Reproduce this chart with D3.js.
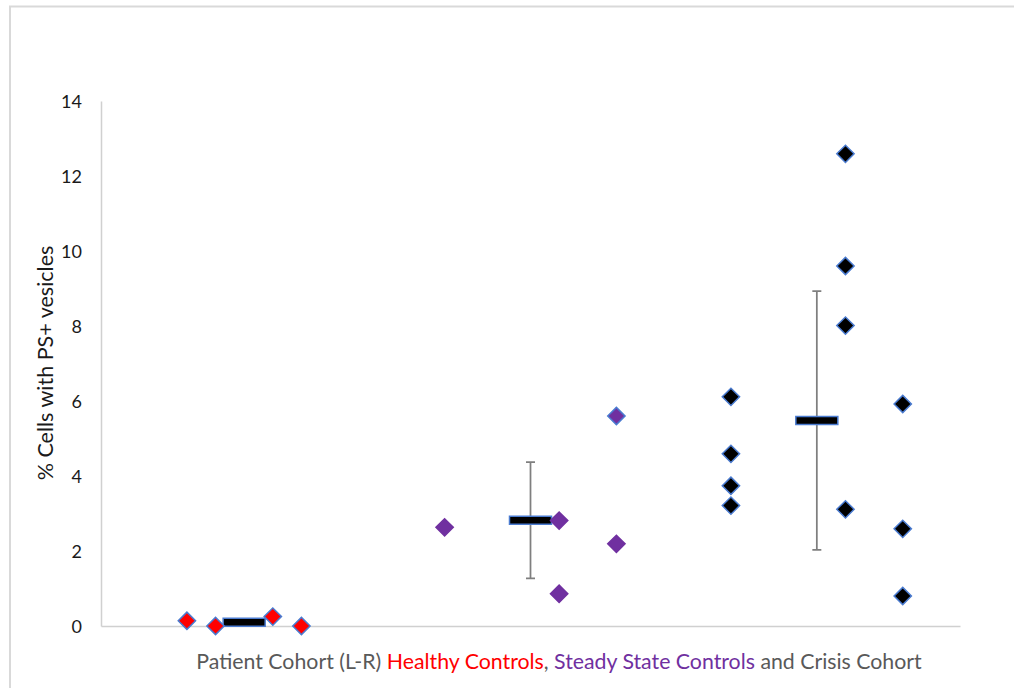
<!DOCTYPE html>
<html>
<head>
<meta charset="utf-8">
<script src="https://cdn.jsdelivr.net/npm/d3@7"></script>
<style>
  html, body { margin: 0; padding: 0; background: #fff; }
  svg { display: block; }
  text { font-family: Lato, "Open Sans", "Liberation Sans", sans-serif; }
</style>
</head>
<body>
<svg id="chart" width="1014" height="688"></svg>
<script>
// Cohort positions (x) and % of cells with PS+ vesicles (y)
const healthyX = [3, 4, 6, 7];
const healthyY = [0.14, 0.0, 0.25, 0.0];
const steadyX = [12, 16, 16, 18, 18];
const steadyY = [2.63, 2.81, 0.86, 5.6, 2.19];
const crisisX = [22, 22, 22, 22, 26, 26, 26, 26, 28, 28, 28];
const crisisY = [6.11, 4.59, 3.74, 3.21, 12.59, 9.6, 8.01, 3.11, 5.92, 2.59, 0.8];

// Group means with error bars (mean ± SD)
const meanX = [5, 15, 25];
const meanY = [0.1, 2.82, 5.48];
const meanErr = [0, 1.55, 3.45];

const yTicks = [0, 2, 4, 6, 8, 10, 12, 14];

const svg = d3.select("#chart");

// chart-area frame
svg.append("rect")
  .attr("x", 10).attr("y", 6.5)
  .attr("width", 1100).attr("height", 800)
  .attr("fill", "none")
  .attr("stroke", "#d9d9d9")
  .attr("stroke-width", 2);

const x = d3.scaleLinear().domain([0, 30]).range([101, 960]);
const y = d3.scaleLinear().domain([0, 14]).range([626, 101]);

// y axis: labels only, light line
const yAxis = d3.axisLeft(y).tickValues(yTicks).tickSize(0).tickPadding(19);
const gy = svg.append("g").attr("transform", `translate(${x(0)},0)`).call(yAxis);
gy.attr("font-size", null).attr("font-family", null);
gy.select(".domain").attr("stroke", "#d0d0d0").attr("stroke-width", 1.5);
gy.selectAll("text")
  .attr("fill", "#1a1a1a")
  .style("font-size", "18px")
  .attr("dy", "0.35em");

// x axis: plain line, no ticks
const xAxis = d3.axisBottom(x).tickValues([]).tickSizeOuter(0);
const gx = svg.append("g").attr("transform", `translate(0,${y(0)})`).call(xAxis);
gx.select(".domain").attr("stroke", "#d0d0d0").attr("stroke-width", 1.5);

// error bars
const capW = 9;
const eb = svg.append("g").attr("stroke", "#7f7f7f").attr("stroke-width", 1.75);
meanX.forEach((mx, i) => {
  if (meanErr[i] <= 0) return;
  const top = y(meanY[i] + meanErr[i]), bot = y(meanY[i] - meanErr[i]);
  eb.append("line").attr("x1", x(mx)).attr("x2", x(mx)).attr("y1", top).attr("y2", bot);
  eb.append("line").attr("x1", x(mx) - capW / 2).attr("x2", x(mx) + capW / 2).attr("y1", top).attr("y2", top);
  eb.append("line").attr("x1", x(mx) - capW / 2).attr("x2", x(mx) + capW / 2).attr("y1", bot).attr("y2", bot);
});

// mean markers (wide dashes)
const barW = 42, barH = 8;
svg.append("g").selectAll("rect")
  .data(meanX.map((mx, i) => ({ x: mx, y: meanY[i] })))
  .join("rect")
  .attr("x", d => x(d.x) - barW / 2)
  .attr("y", d => y(d.y) - barH / 2)
  .attr("width", barW).attr("height", barH)
  .attr("fill", "#000")
  .attr("stroke", "#4a7bd0")
  .attr("stroke-width", 1.5);

// diamond points
const diamond = d3.symbol().type(d3.symbolSquare).size(150);
function drawPoints(xs, ys, fill, outlined) {
  svg.append("g").selectAll("path")
    .data(xs.map((v, i) => ({ x: v, y: ys[i], o: outlined(i) })))
    .join("path")
    .attr("d", diamond)
    .attr("transform", d => `translate(${x(d.x)},${y(d.y)}) rotate(45)`)
    .attr("fill", fill)
    .attr("stroke", d => d.o ? "#4a7bd0" : fill)
    .attr("stroke-width", 1.5);
}
drawPoints(healthyX, healthyY, "#ff0000", () => true);
drawPoints(steadyX, steadyY, "#7030a0", i => i === 3);
drawPoints(crisisX, crisisY, "#000000", () => true);

// y axis title
svg.append("text")
  .attr("transform", `translate(53,${363}) rotate(-90)`)
  .attr("text-anchor", "middle")
  .attr("fill", "#1a1a1a")
  .style("font-size", "21.5px")
  .text("% Cells with PS+ vesicles");

// x axis title with coloured cohort names
const xt = svg.append("text")
  .attr("x", 559).attr("y", 669)
  .attr("text-anchor", "middle")
  .style("font-size", "21.3px")
  .attr("fill", "#595959");
xt.append("tspan").text("Patient Cohort (L-R) ");
xt.append("tspan").attr("fill", "#ff0000").text("Healthy Controls");
xt.append("tspan").text(", ");
xt.append("tspan").attr("fill", "#7030a0").text("Steady State Controls");
xt.append("tspan").text(" and Crisis Cohort");
</script>
</body>
</html>
